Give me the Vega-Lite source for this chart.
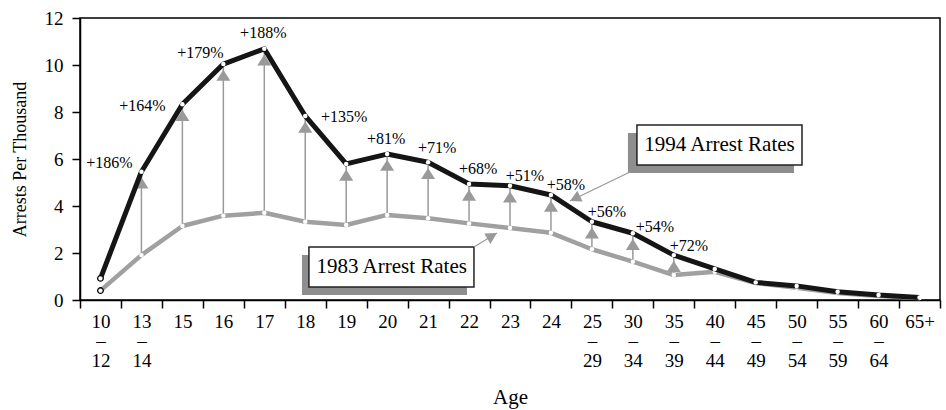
{
  "$schema": "https://vega.github.io/schema/vega-lite/v6.json",
  "width": 860,
  "height": 282,
  "autosize": {"type": "none"},
  "padding": {"left": 80, "top": 18, "right": 6, "bottom": 110},
  "background": "white",
  "config": {
    "view": {"stroke": "black", "strokeWidth": 1.5},
    "font": "Liberation Serif",
    "axis": {
      "domainColor": "black", "domainWidth": 1.5, "tickColor": "black", "tickWidth": 1.5, "tickSize": 8,
      "labelFont": "Liberation Serif", "labelFontSize": 19, "labelColor": "black",
      "titleFont": "Liberation Serif", "titleFontSize": 21, "titleFontWeight": "normal", "titleColor": "black",
      "grid": false
    },
    "axisX": {"labelAngle": 0, "labelPadding": 4, "labelLineHeight": 19.5, "titlePadding": 16, "tickBand": "extent", "labelBaseline": "top"},
    "axisY": {"labelPadding": 9, "titlePadding": 15, "titleFontSize": 18}
  },
  "datasets": {
    "rates": [
      {"age": "10–12", "r1983": 0.40, "r1994": 0.92},
      {"age": "13–14", "r1983": 1.91, "r1994": 5.46},
      {"age": "15", "r1983": 3.15, "r1994": 8.33},
      {"age": "16", "r1983": 3.59, "r1994": 10.04},
      {"age": "17", "r1983": 3.71, "r1994": 10.69},
      {"age": "18", "r1983": 3.33, "r1994": 7.83},
      {"age": "19", "r1983": 3.19, "r1994": 5.79},
      {"age": "20", "r1983": 3.62, "r1994": 6.21},
      {"age": "21", "r1983": 3.48, "r1994": 5.86},
      {"age": "22", "r1983": 3.26, "r1994": 4.94},
      {"age": "23", "r1983": 3.06, "r1994": 4.86},
      {"age": "24", "r1983": 2.86, "r1994": 4.47},
      {"age": "25–29", "r1983": 2.16, "r1994": 3.33},
      {"age": "30–34", "r1983": 1.63, "r1994": 2.84},
      {"age": "35–39", "r1983": 1.06, "r1994": 1.91},
      {"age": "40–44", "r1983": 1.20, "r1994": 1.32},
      {"age": "45–49", "r1983": 0.72, "r1994": 0.75},
      {"age": "50–54", "r1983": 0.52, "r1994": 0.60},
      {"age": "55–59", "r1983": 0.30, "r1994": 0.35},
      {"age": "60–64", "r1983": 0.17, "r1994": 0.21},
      {"age": "65+", "r1983": 0.08, "r1994": 0.11}
    ],
    "pctLabels": [
      {"age": "13–14", "describes": "13–14", "label": "+186%"},
      {"age": "15", "describes": "15", "label": "+164%"},
      {"age": "16", "describes": "16", "label": "+179%"},
      {"age": "17", "describes": "17", "label": "+188%"},
      {"age": "18", "describes": "18", "label": "+135%"},
      {"age": "20", "describes": "19", "label": "+81%"},
      {"age": "21", "describes": "20", "label": "+71%"},
      {"age": "22", "describes": "21", "label": "+68%"},
      {"age": "23", "describes": "22", "label": "+51%"},
      {"age": "24", "describes": "23", "label": "+58%"},
      {"age": "25–29", "describes": "24", "label": "+56%"},
      {"age": "30–34", "describes": "25–29", "label": "+54%"},
      {"age": "35–39", "describes": "30–34", "label": "+72%"}
    ],
    "callouts": [
      {"label": "1994 Arrest Rates", "boxL": 13.60, "boxR": 17.63, "boxT": 7.447, "boxB": 5.745, "shL": 13.38, "shR": 17.435, "shT": 7.106, "shB": 5.404, "textX": 15.616, "textY": 6.596, "fromX": 13.43, "fromY": 5.45, "toX": 11.965, "toY": 4.21},
      {"label": "1983 Arrest Rates", "boxL": 5.59, "boxR": 9.62, "boxT": 2.255, "boxB": 0.553, "shL": 5.42, "shR": 9.45, "shT": 1.915, "shB": 0.213, "textX": 7.61, "textY": 1.40, "fromX": 9.62, "fromY": 2.255, "toX": 10.18, "toY": 2.85}
    ]
  },
  "layer": [
    {
      "data": {"name": "rates"},
      "encoding": {
        "x": {
          "field": "age", "type": "ordinal", "title": "Age",
          "scale": {"type": "band", "paddingInner": 0, "paddingOuter": 0,
            "domain": ["10–12","13–14","15","16","17","18","19","20","21","22","23","24","25–29","30–34","35–39","40–44","45–49","50–54","55–59","60–64","65+"]},
          "axis": {"labelExpr": "indexof(datum.label, '–') > 0 ? [split(datum.label, '–')[0], '–', split(datum.label, '–')[1]] : datum.label"}
        }
      },
      "layer": [
        {
          "transform": [{"filter": {"field": "age", "oneOf": ["13–14","15","16","17","18","19","20","21","22","23","24","25–29","30–34","35–39"]}}],
          "mark": {"type": "rule", "color": "#9a9a9a", "strokeWidth": 1.5},
          "encoding": {
            "y": {"field": "r1983", "type": "quantitative", "title": "Arrests Per Thousand", "scale": {"domain": [0, 12], "nice": false}, "axis": {"values": [0, 2, 4, 6, 8, 10, 12]}},
            "y2": {"field": "r1994"}
          }
        },
        {
          "transform": [{"filter": {"field": "age", "oneOf": ["13–14","15","16","17","18","19","20","21","22","23","24","25–29","30–34","35–39"]}}],
          "mark": {"type": "point", "shape": "M0,0.8L-1,2.4L1,2.4Z", "size": 196, "filled": true, "color": "#9a9a9a", "opacity": 1, "strokeWidth": 0},
          "encoding": {"y": {"field": "r1994", "type": "quantitative", "title": "Arrests Per Thousand"}}
        },
        {
          "mark": {"type": "line", "color": "#a0a0a0", "strokeWidth": 4.5, "strokeJoin": "round"},
          "encoding": {"y": {"field": "r1983", "type": "quantitative", "title": "Arrests Per Thousand"}}
        },
        {
          "transform": [{"filter": "datum.age !== '10–12'"}],
          "mark": {"type": "point", "filled": true, "color": "white", "size": 20, "opacity": 1},
          "encoding": {"y": {"field": "r1983", "type": "quantitative", "title": "Arrests Per Thousand"}}
        },
        {
          "mark": {"type": "line", "color": "#151515", "strokeWidth": 5, "strokeJoin": "round"},
          "encoding": {"y": {"field": "r1994", "type": "quantitative", "title": "Arrests Per Thousand"}}
        },
        {
          "transform": [{"filter": "datum.age !== '10–12'"}],
          "mark": {"type": "point", "filled": true, "color": "white", "size": 20, "opacity": 1},
          "encoding": {"y": {"field": "r1994", "type": "quantitative", "title": "Arrests Per Thousand"}}
        },
        {
          "transform": [{"filter": "datum.age === '10–12'"}],
          "mark": {"type": "point", "filled": false, "fill": "white", "stroke": "black", "strokeWidth": 1.3, "size": 32, "opacity": 1},
          "encoding": {"y": {"field": "r1983", "type": "quantitative", "title": "Arrests Per Thousand"}}
        },
        {
          "transform": [{"filter": "datum.age === '10–12'"}],
          "mark": {"type": "point", "filled": false, "fill": "white", "stroke": "black", "strokeWidth": 1.3, "size": 32, "opacity": 1},
          "encoding": {"y": {"field": "r1994", "type": "quantitative", "title": "Arrests Per Thousand"}}
        },
        {
          "data": {"name": "pctLabels"},
          "transform": [{"filter": {"field": "age", "oneOf": ["13–14"]}}, {"lookup": "age", "from": {"data": {"name": "rates"}, "key": "age", "fields": ["r1994"]}}],
          "mark": {"type": "text", "dx": -32, "dy": -9, "fontSize": 16, "font": "Liberation Serif", "align": "center", "baseline": "middle", "color": "black"},
          "encoding": {"y": {"field": "r1994", "type": "quantitative", "title": "Arrests Per Thousand"}, "text": {"field": "label"}}
        },
        {
          "data": {"name": "pctLabels"},
          "transform": [{"filter": {"field": "age", "oneOf": ["15"]}}, {"lookup": "age", "from": {"data": {"name": "rates"}, "key": "age", "fields": ["r1994"]}}],
          "mark": {"type": "text", "dx": -40, "dy": 2, "fontSize": 16, "font": "Liberation Serif", "align": "center", "baseline": "middle", "color": "black"},
          "encoding": {"y": {"field": "r1994", "type": "quantitative", "title": "Arrests Per Thousand"}, "text": {"field": "label"}}
        },
        {
          "data": {"name": "pctLabels"},
          "transform": [{"filter": {"field": "age", "oneOf": ["16"]}}, {"lookup": "age", "from": {"data": {"name": "rates"}, "key": "age", "fields": ["r1994"]}}],
          "mark": {"type": "text", "dx": -23, "dy": -11, "fontSize": 16, "font": "Liberation Serif", "align": "center", "baseline": "middle", "color": "black"},
          "encoding": {"y": {"field": "r1994", "type": "quantitative", "title": "Arrests Per Thousand"}, "text": {"field": "label"}}
        },
        {
          "data": {"name": "pctLabels"},
          "transform": [{"filter": {"field": "age", "oneOf": ["17", "20"]}}, {"lookup": "age", "from": {"data": {"name": "rates"}, "key": "age", "fields": ["r1994"]}}],
          "mark": {"type": "text", "dx": -1, "dy": -15.5, "fontSize": 16, "font": "Liberation Serif", "align": "center", "baseline": "middle", "color": "black"},
          "encoding": {"y": {"field": "r1994", "type": "quantitative", "title": "Arrests Per Thousand"}, "text": {"field": "label"}}
        },
        {
          "data": {"name": "pctLabels"},
          "transform": [{"filter": {"field": "age", "oneOf": ["18"]}}, {"lookup": "age", "from": {"data": {"name": "rates"}, "key": "age", "fields": ["r1994"]}}],
          "mark": {"type": "text", "dx": 39, "dy": 1, "fontSize": 16, "font": "Liberation Serif", "align": "center", "baseline": "middle", "color": "black"},
          "encoding": {"y": {"field": "r1994", "type": "quantitative", "title": "Arrests Per Thousand"}, "text": {"field": "label"}}
        },
        {
          "data": {"name": "pctLabels"},
          "transform": [{"filter": {"field": "age", "oneOf": ["21", "22"]}}, {"lookup": "age", "from": {"data": {"name": "rates"}, "key": "age", "fields": ["r1994"]}}],
          "mark": {"type": "text", "dx": 9, "dy": -14.5, "fontSize": 16, "font": "Liberation Serif", "align": "center", "baseline": "middle", "color": "black"},
          "encoding": {"y": {"field": "r1994", "type": "quantitative", "title": "Arrests Per Thousand"}, "text": {"field": "label"}}
        },
        {
          "data": {"name": "pctLabels"},
          "transform": [{"filter": {"field": "age", "oneOf": ["23", "24", "25–29", "35–39"]}}, {"lookup": "age", "from": {"data": {"name": "rates"}, "key": "age", "fields": ["r1994"]}}],
          "mark": {"type": "text", "dx": 15, "dy": -9.5, "fontSize": 16, "font": "Liberation Serif", "align": "center", "baseline": "middle", "color": "black"},
          "encoding": {"y": {"field": "r1994", "type": "quantitative", "title": "Arrests Per Thousand"}, "text": {"field": "label"}}
        },
        {
          "data": {"name": "pctLabels"},
          "transform": [{"filter": {"field": "age", "oneOf": ["30–34"]}}, {"lookup": "age", "from": {"data": {"name": "rates"}, "key": "age", "fields": ["r1994"]}}],
          "mark": {"type": "text", "dx": 22, "dy": -6, "fontSize": 16, "font": "Liberation Serif", "align": "center", "baseline": "middle", "color": "black"},
          "encoding": {"y": {"field": "r1994", "type": "quantitative", "title": "Arrests Per Thousand"}, "text": {"field": "label"}}
        }
      ]
    },
    {
      "data": {"name": "callouts"},
      "layer": [
        {
          "mark": {"type": "rect", "color": "#8e8e8e", "opacity": 1},
          "encoding": {
            "x": {"field": "shL", "type": "quantitative", "scale": {"domain": [0, 21], "nice": false, "zero": false}, "axis": null},
            "x2": {"field": "shR"},
            "y": {"field": "shT", "type": "quantitative", "title": "Arrests Per Thousand"},
            "y2": {"field": "shB"}
          }
        },
        {
          "mark": {"type": "rect", "fill": "white", "stroke": "#222222", "strokeWidth": 1.5, "opacity": 1},
          "encoding": {
            "x": {"field": "boxL", "type": "quantitative", "axis": null},
            "x2": {"field": "boxR"},
            "y": {"field": "boxT", "type": "quantitative", "title": "Arrests Per Thousand"},
            "y2": {"field": "boxB"}
          }
        },
        {
          "mark": {"type": "text", "fontSize": 21, "font": "Liberation Serif", "align": "center", "baseline": "middle", "color": "black"},
          "encoding": {
            "x": {"field": "textX", "type": "quantitative", "axis": null},
            "y": {"field": "textY", "type": "quantitative", "title": "Arrests Per Thousand"},
            "text": {"field": "label"}
          }
        },
        {
          "mark": {"type": "rule", "color": "#999999", "strokeWidth": 1.2},
          "encoding": {
            "x": {"field": "fromX", "type": "quantitative", "axis": null},
            "x2": {"field": "toX"},
            "y": {"field": "fromY", "type": "quantitative", "title": "Arrests Per Thousand"},
            "y2": {"field": "toY"}
          }
        },
        {
          "transform": [{"filter": "datum.label === '1994 Arrest Rates'"}],
          "mark": {"type": "point", "shape": "M0,0L-1,1.85L1,1.85Z", "size": 144, "angle": 244, "filled": true, "color": "#999999", "opacity": 1, "strokeWidth": 0},
          "encoding": {
            "x": {"field": "toX", "type": "quantitative", "axis": null},
            "y": {"field": "toY", "type": "quantitative", "title": "Arrests Per Thousand"}
          }
        },
        {
          "transform": [{"filter": "datum.label === '1983 Arrest Rates'"}],
          "mark": {"type": "point", "shape": "M0,0L-1,1.85L1,1.85Z", "size": 144, "angle": 59, "filled": true, "color": "#999999", "opacity": 1, "strokeWidth": 0},
          "encoding": {
            "x": {"field": "toX", "type": "quantitative", "axis": null},
            "y": {"field": "toY", "type": "quantitative", "title": "Arrests Per Thousand"}
          }
        }
      ]
    }
  ],
  "resolve": {"scale": {"x": "independent"}}
}
